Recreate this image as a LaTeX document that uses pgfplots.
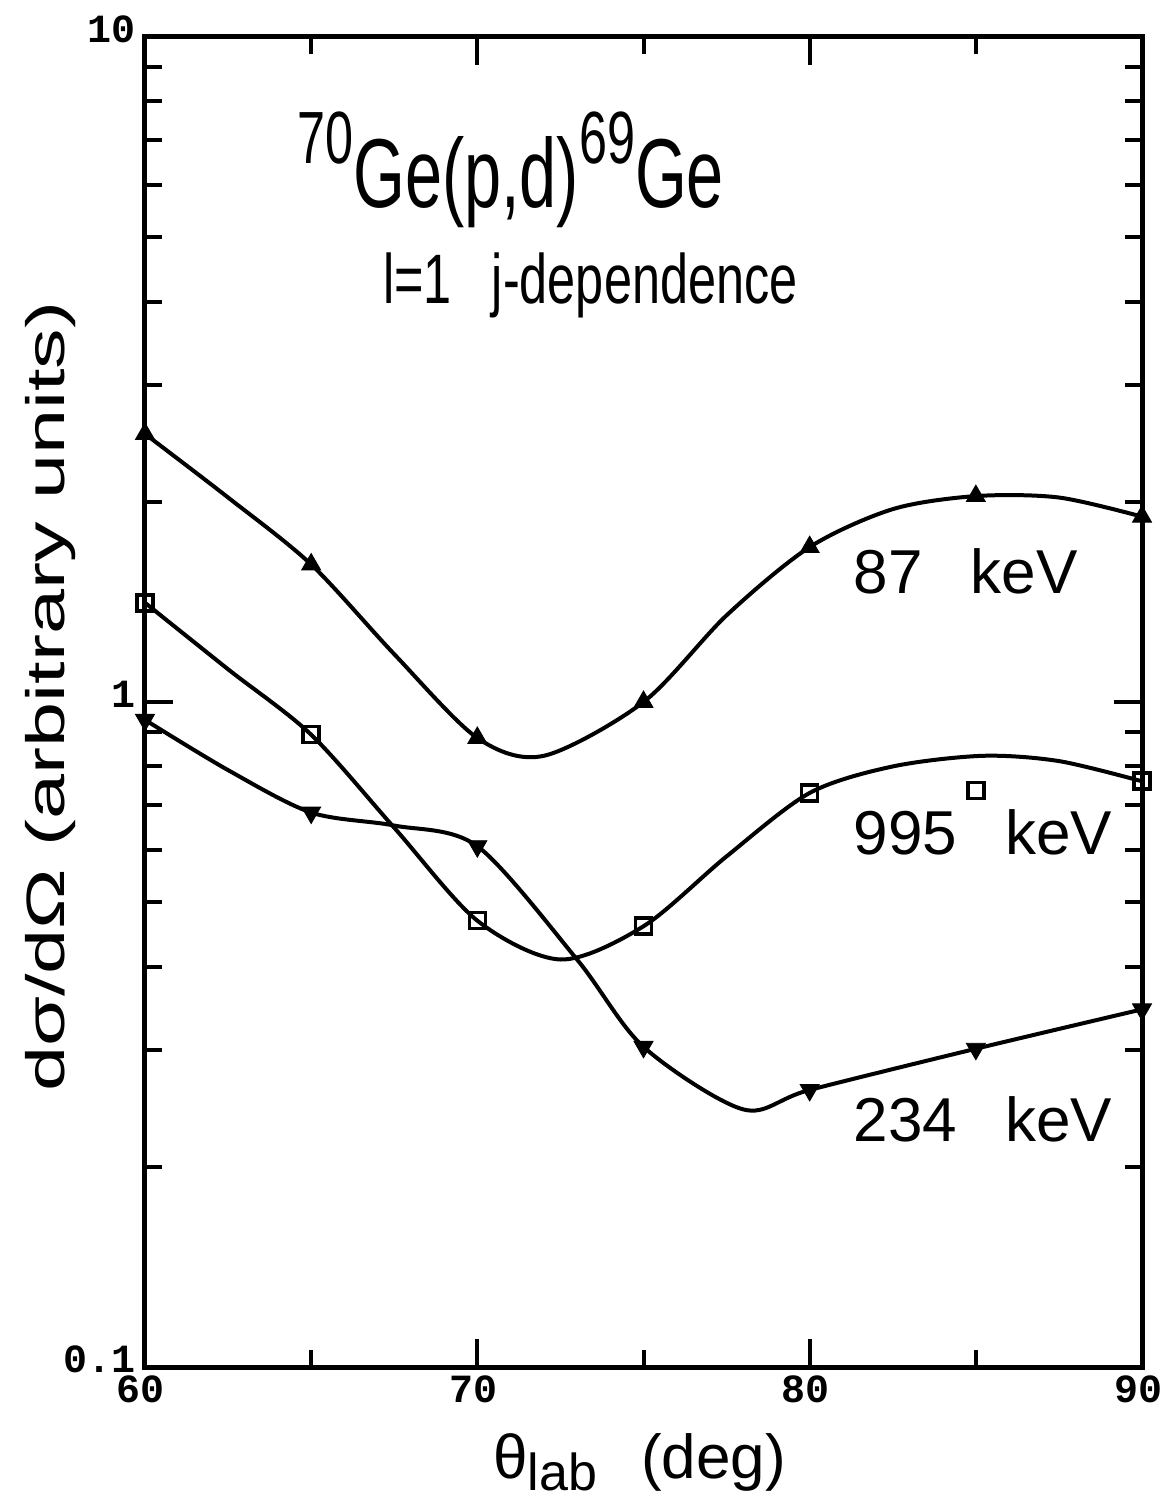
\documentclass[border=0pt]{standalone}
\usepackage{fontspec}
\usepackage{pgfplots}
\pgfplotsset{compat=1.18}
\setmainfont{Liberation Sans}
\newfontfamily\titlefont[FakeStretch=0.68]{Liberation Sans}
\newfontfamily\subfont[FakeStretch=0.72]{Liberation Sans}
\newfontfamily\lblfont{Liberation Sans}
\newfontfamily\ylblfont[FakeStretch=1.5]{Liberation Sans}
\newfontfamily\tickfont{Liberation Mono}
\begin{document}
\begin{tikzpicture}
\useasboundingbox (-72.5pt,-67.5pt) rectangle (508pt,683.5pt);
\begin{axis}[
  at={(0,0)}, anchor=south west,
  scale only axis, width=498.5pt, height=665pt,
  xmin=60, xmax=90, ymode=log, ymin=0.1, ymax=10,
  clip=false,
  axis line style={line width=2.5pt},
  xtick={60,70,80,90}, xticklabels={60,70,80,90},
  minor xtick={65,75,85},
  ytick={0.1,1,10}, yticklabels={0.1,1,10},
  tick align=inside,
  major tick length=14pt, minor tick length=8.5pt,
  every tick/.style={line width=2pt, black},
  ticklabel style={font=\tickfont\bfseries\fontsize{20}{20}\selectfont},
  xticklabel style={yshift=-1pt, xshift=-2pt},
  yticklabel style={xshift=-1pt, yshift=4pt},
]
% curves
\addplot[smooth, line width=2pt, no marks] coordinates {
 (60,2.53) (62.5,2.03) (65,1.61) (67.5,1.18) (70,0.883) (72,0.83) (75,1.00)
 (77.5,1.35) (80,1.71) (82.5,1.95) (85,2.04) (87.5,2.03) (90,1.90)};
\addplot[smooth, line width=2pt, no marks] coordinates {
 (60,1.41) (62.5,1.12) (65,0.893) (67.5,0.647) (70,0.469) (72.5,0.410) (75,0.460)
 (77.5,0.586) (80,0.73) (82.5,0.80) (85.2,0.83) (87.5,0.815) (90,0.76)};
\addplot[smooth, line width=2pt, no marks] coordinates {
 (60,0.94) (62.5,0.79) (65,0.682) (67.5,0.652) (70,0.607) (73,0.41) (75,0.303)
 (78,0.244) (80,0.261) (85,0.301) (90,0.345)};
% markers
\addplot[only marks, mark=triangle*, mark size=5.5pt, fill=black] coordinates {
 (60,2.53) (65,1.61) (70,0.883) (75,1.00) (80,1.71) (85,2.04) (90,1.90)};
\addplot[only marks, mark=square, mark size=4pt, mark options={line width=1.8pt}] coordinates {
 (60,1.41) (65,0.893) (70,0.469) (75,0.460) (80,0.73) (85,0.736) (90,0.76)};
\addplot[only marks, mark=triangle*, mark size=5.5pt, mark options={rotate=180}, fill=black] coordinates {
 (60,0.94) (65,0.682) (70,0.607) (75,0.303) (80,0.261) (85,0.301) (90,0.345)};
% texts
\node[anchor=base west, inner sep=0] at (axis cs:64.57,5.55)
 {\titlefont\fontsize{49}{49}\selectfont
  \raisebox{22pt}{\fontsize{37}{37}\selectfont 70}Ge(p,d)\raisebox{22pt}{\fontsize{37}{37}\selectfont 69}Ge};
\node[anchor=base west, inner sep=0] at (axis cs:67.16,3.975)
 {\subfont\fontsize{35}{35}\selectfont l=1\hspace{20pt}j-dependence};
\node[anchor=base west, inner sep=0] at (axis cs:81.31,1.454)
 {\lblfont\fontsize{31}{31}\selectfont 87\hspace{24pt}keV};
\node[anchor=base west, inner sep=0] at (axis cs:81.31,0.590)
 {\lblfont\fontsize{31}{31}\selectfont 995\hspace{24pt}keV};
\node[anchor=base west, inner sep=0] at (axis cs:81.31,0.218)
 {\lblfont\fontsize{31}{31}\selectfont 234\hspace{24pt}keV};
\node[anchor=base west, inner sep=0] at (axis cs:70.47,0.068)
 {\lblfont\fontsize{31}{31}\selectfont θ\raisebox{-6pt}{\fontsize{26}{26}\selectfont lab}\hspace{22pt}(deg)};
\node[rotate=90, anchor=base, inner sep=0] at (rel axis cs:-0.081,0.504)
 {\ylblfont\fontsize{27}{27}\selectfont dσ/dΩ (arbitrary units)};
\end{axis}
\end{tikzpicture}
\end{document}
